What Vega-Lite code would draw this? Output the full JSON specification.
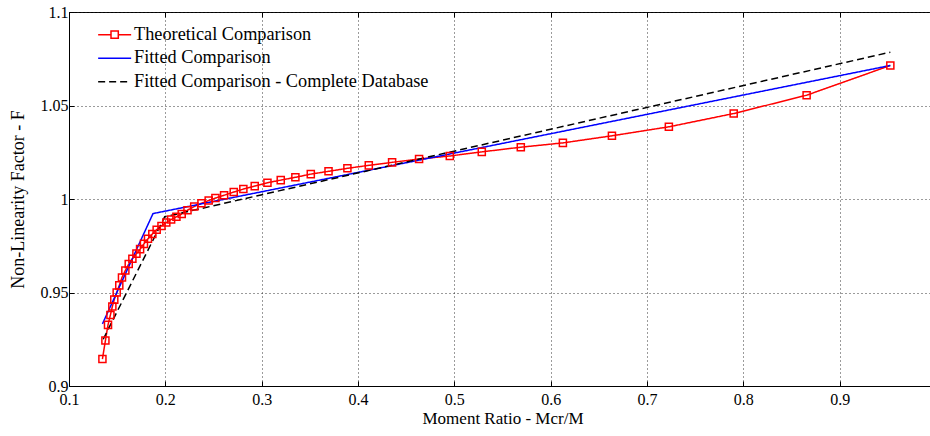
{
  "$schema": "https://vega.github.io/schema/vega-lite/v6.json",
  "width": 867,
  "height": 374,
  "autosize": "none",
  "padding": {"left": 69, "top": 12, "right": 0, "bottom": 50},
  "background": "white",
  "config": {
    "view": {"stroke": "black", "strokeWidth": 1},
    "font": "Liberation Serif",
    "axis": {
      "labelFont": "Liberation Serif",
      "titleFont": "Liberation Serif",
      "labelFontSize": 16,
      "titleFontSize": 17,
      "labelColor": "black",
      "titleColor": "black",
      "titleFontWeight": "normal",
      "domainColor": "black",
      "tickColor": "black",
      "gridColor": "#222222",
      "gridDash": [1, 3],
      "gridOpacity": 0.9,
      "tickSize": -5,
      "labelFlush": false
    }
  },
  "data": {
    "values": [
      {"s": "Theoretical Comparison", "x": 0.1347, "y": 0.9144},
      {"s": "Theoretical Comparison", "x": 0.1378, "y": 0.9243},
      {"s": "Theoretical Comparison", "x": 0.1405, "y": 0.9327},
      {"s": "Theoretical Comparison", "x": 0.1430, "y": 0.9380},
      {"s": "Theoretical Comparison", "x": 0.1450, "y": 0.9425},
      {"s": "Theoretical Comparison", "x": 0.1470, "y": 0.9462},
      {"s": "Theoretical Comparison", "x": 0.1495, "y": 0.9500},
      {"s": "Theoretical Comparison", "x": 0.1522, "y": 0.9538},
      {"s": "Theoretical Comparison", "x": 0.1550, "y": 0.9580},
      {"s": "Theoretical Comparison", "x": 0.1585, "y": 0.9618},
      {"s": "Theoretical Comparison", "x": 0.1620, "y": 0.9652},
      {"s": "Theoretical Comparison", "x": 0.1658, "y": 0.9680},
      {"s": "Theoretical Comparison", "x": 0.1700, "y": 0.9708},
      {"s": "Theoretical Comparison", "x": 0.1738, "y": 0.9732},
      {"s": "Theoretical Comparison", "x": 0.1778, "y": 0.9760},
      {"s": "Theoretical Comparison", "x": 0.1820, "y": 0.9787},
      {"s": "Theoretical Comparison", "x": 0.1865, "y": 0.9813},
      {"s": "Theoretical Comparison", "x": 0.1910, "y": 0.9836},
      {"s": "Theoretical Comparison", "x": 0.1960, "y": 0.9856},
      {"s": "Theoretical Comparison", "x": 0.2010, "y": 0.9874},
      {"s": "Theoretical Comparison", "x": 0.2060, "y": 0.9890},
      {"s": "Theoretical Comparison", "x": 0.2115, "y": 0.9905},
      {"s": "Theoretical Comparison", "x": 0.2170, "y": 0.9920},
      {"s": "Theoretical Comparison", "x": 0.2230, "y": 0.9940},
      {"s": "Theoretical Comparison", "x": 0.2300, "y": 0.9960},
      {"s": "Theoretical Comparison", "x": 0.2375, "y": 0.9977},
      {"s": "Theoretical Comparison", "x": 0.2450, "y": 0.9992},
      {"s": "Theoretical Comparison", "x": 0.2520, "y": 1.0005},
      {"s": "Theoretical Comparison", "x": 0.2610, "y": 1.0020},
      {"s": "Theoretical Comparison", "x": 0.2710, "y": 1.0037},
      {"s": "Theoretical Comparison", "x": 0.2810, "y": 1.0053},
      {"s": "Theoretical Comparison", "x": 0.2928, "y": 1.0069},
      {"s": "Theoretical Comparison", "x": 0.3060, "y": 1.0087},
      {"s": "Theoretical Comparison", "x": 0.3198, "y": 1.0101},
      {"s": "Theoretical Comparison", "x": 0.3350, "y": 1.0116},
      {"s": "Theoretical Comparison", "x": 0.3510, "y": 1.0133},
      {"s": "Theoretical Comparison", "x": 0.3694, "y": 1.0148},
      {"s": "Theoretical Comparison", "x": 0.3890, "y": 1.0164},
      {"s": "Theoretical Comparison", "x": 0.4112, "y": 1.0180},
      {"s": "Theoretical Comparison", "x": 0.4354, "y": 1.0196},
      {"s": "Theoretical Comparison", "x": 0.4634, "y": 1.0214},
      {"s": "Theoretical Comparison", "x": 0.4953, "y": 1.0230},
      {"s": "Theoretical Comparison", "x": 0.5285, "y": 1.0252},
      {"s": "Theoretical Comparison", "x": 0.5690, "y": 1.0277},
      {"s": "Theoretical Comparison", "x": 0.6127, "y": 1.0300},
      {"s": "Theoretical Comparison", "x": 0.6636, "y": 1.0338},
      {"s": "Theoretical Comparison", "x": 0.7227, "y": 1.0386},
      {"s": "Theoretical Comparison", "x": 0.7900, "y": 1.0457},
      {"s": "Theoretical Comparison", "x": 0.8657, "y": 1.0555},
      {"s": "Theoretical Comparison", "x": 0.9526, "y": 1.0714},
      {"s": "Fitted Comparison", "x": 0.1347, "y": 0.9332},
      {"s": "Fitted Comparison", "x": 0.1872, "y": 0.9922},
      {"s": "Fitted Comparison", "x": 0.9526, "y": 1.0714},
      {"s": "Fitted Comparison - Complete Database", "x": 0.1355, "y": 0.9250},
      {"s": "Fitted Comparison - Complete Database", "x": 0.1994, "y": 0.9905},
      {"s": "Fitted Comparison - Complete Database", "x": 0.9526, "y": 1.0785}
    ]
  },
  "layer": [
    {
      "mark": {"type": "line", "strokeWidth": 1.5},
      "encoding": {
        "x": {
          "field": "x", "type": "quantitative",
          "scale": {"domain": [0.1, 1.0], "nice": false, "zero": false},
          "axis": {
            "orient": "bottom",
            "values": [0.1, 0.2, 0.3, 0.4, 0.5, 0.6, 0.7, 0.8, 0.9],
            "format": "~g",
            "grid": true,
            "labelPadding": 10,
            "title": "Moment Ratio - Mcr/M",
            "titleBaseline": "alphabetic",
            "titleY": 37
          }
        },
        "y": {
          "field": "y", "type": "quantitative",
          "scale": {"domain": [0.9, 1.1], "nice": false, "zero": false},
          "axis": {
            "values": [0.9, 0.95, 1, 1.05, 1.1],
            "format": "~g",
            "grid": true,
            "labelPadding": 6,
            "title": "Non-Linearity Factor - F",
            "titleFontSize": 18,
            "titleAngle": -90,
            "titleX": -51,
            "titleY": 187,
            "titleAlign": "center",
            "titleBaseline": "middle"
          }
        },
        "color": {
          "field": "s", "type": "nominal",
          "scale": {
            "domain": ["Theoretical Comparison", "Fitted Comparison", "Fitted Comparison - Complete Database"],
            "range": ["#ff0000", "#0000ff", "#000000"]
          },
          "legend": {
            "title": null,
            "orient": "none",
            "legendX": 36.5,
            "legendY": 13.5,
            "padding": 0,
            "labelFont": "Liberation Serif",
            "labelFontSize": 18.3,
            "labelColor": "black",
            "labelLimit": 500,
            "symbolSize": 100,
            "symbolStrokeWidth": 1.5,
            "labelOffset": 10.2,
            "rowPadding": 4.5,
            "encode": {
              "symbols": {
                "update": {
                  "shape": {"signal": "datum.value === 'Theoretical Comparison' ? 'M-3.3,0H-0.73M0.73,0H3.3M-0.73,-0.73H0.73V0.73H-0.73Z' : 'M-3.3,0H3.3'"},
                  "strokeDash": {"signal": "datum.value === 'Fitted Comparison - Complete Database' ? [7, 4] : [1, 0]"},
                  "fill": {"value": "transparent"}
                }
              }
            }
          }
        },
        "strokeDash": {
          "field": "s", "type": "nominal",
          "scale": {
            "domain": ["Theoretical Comparison", "Fitted Comparison", "Fitted Comparison - Complete Database"],
            "range": [[1, 0], [1, 0], [7, 4]]
          },
          "legend": null
        }
      }
    },
    {
      "transform": [{"filter": "datum.s === 'Theoretical Comparison'"}],
      "mark": {"type": "point", "shape": "square", "filled": false, "size": 50, "strokeWidth": 1.5, "color": "#ff0000", "opacity": 1},
      "encoding": {
        "x": {
          "field": "x", "type": "quantitative",
          "scale": {"domain": [0.1, 1.0], "nice": false, "zero": false},
          "axis": {
            "orient": "top",
            "values": [0.1, 0.2, 0.3, 0.4, 0.5, 0.6, 0.7, 0.8, 0.9],
            "labels": false,
            "title": null,
            "grid": false,
            "domain": false
          }
        },
        "y": {
          "field": "y", "type": "quantitative",
          "scale": {"domain": [0.9, 1.1], "nice": false, "zero": false},
          "axis": null
        }
      }
    }
  ],
  "resolve": {"axis": {"x": "independent", "y": "independent"}}
}
